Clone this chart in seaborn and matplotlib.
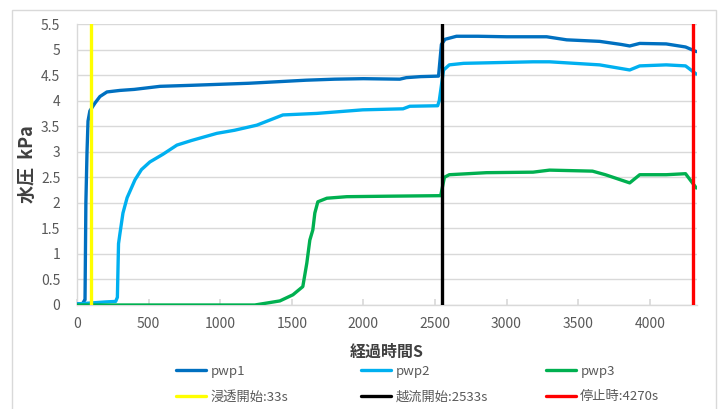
import pandas as pd
import seaborn as sns
import matplotlib.pyplot as plt
from matplotlib.lines import Line2D
from matplotlib.patches import Rectangle

# 経過時間 [s] と水圧 [kPa]
pwp1_t = [0, 40, 50, 56, 62, 70, 77, 90, 125, 160, 209, 300, 400, 580, 800, 1000, 1200,
          1400, 1600, 1800, 2000, 2254, 2300, 2400, 2525, 2545, 2570, 2650, 2800, 3000,
          3280, 3420, 3650, 3800, 3860, 3930, 4115, 4250, 4325]
pwp1_v = [0.02, 0.03, 0.08, 0.1, 2.0, 3.0, 3.6, 3.8, 3.95, 4.08, 4.17, 4.2, 4.22, 4.28,
          4.3, 4.32, 4.34, 4.37, 4.4, 4.42, 4.43, 4.42, 4.45, 4.47, 4.48, 5.1, 5.2, 5.26,
          5.26, 5.25, 5.25, 5.19, 5.16, 5.1, 5.07, 5.12, 5.11, 5.05, 4.96]

pwp2_t = [0, 100, 200, 270, 282, 290, 300, 321, 350, 405, 450, 509, 600, 698, 800, 977,
          1100, 1256, 1347, 1438, 1675, 1996, 2277, 2324, 2519, 2530, 2560, 2600, 2700,
          3185, 3300, 3650, 3860, 3930, 4115, 4250, 4325]
pwp2_v = [0.02, 0.04, 0.06, 0.07, 0.15, 1.2, 1.4, 1.8, 2.1, 2.45, 2.65, 2.8, 2.95, 3.13,
          3.22, 3.36, 3.42, 3.52, 3.62, 3.72, 3.75, 3.82, 3.84, 3.89, 3.9, 4.0, 4.6, 4.7,
          4.73, 4.76, 4.76, 4.7, 4.6, 4.68, 4.7, 4.68, 4.52]

pwp3_t = [0, 1242, 1417, 1508, 1577, 1605, 1626, 1647, 1661, 1682, 1745, 1884, 2184,
          2540, 2566, 2600, 2860, 3185, 3300, 3600, 3690, 3860, 3930, 4115, 4250, 4325]
pwp3_v = [0.0, 0.0, 0.08, 0.2, 0.36, 0.82, 1.27, 1.47, 1.8, 2.02, 2.09, 2.12, 2.13,
          2.14, 2.5, 2.55, 2.59, 2.6, 2.64, 2.62, 2.55, 2.39, 2.55, 2.55, 2.57, 2.29]

# 縦線 (イベント)
event_names = ["浸透開始:33s", "越流開始:2533s", "停止時:4270s"]
event_t = [95, 2552, 4305]
event_colors = ["#FFFF00", "#000000", "#FF0000"]

series_names = ["pwp1", "pwp2", "pwp3"]
series_colors = ["#0070C0", "#00B0F0", "#00B050"]

x_ticks = [0, 500, 1000, 1500, 2000, 2500, 3000, 3500, 4000]
y_ticks = [0, 0.5, 1, 1.5, 2, 2.5, 3, 3.5, 4, 4.5, 5, 5.5]

sns.set_theme(style="white")
plt.rcParams['font.family'] = ['Noto Sans CJK JP', 'DejaVu Sans']

fig = plt.figure(figsize=(7.25, 4.09), dpi=100)
ax = fig.add_axes([77 / 725, 1 - 305 / 409, 620 / 725, 281 / 409])

for name, t, v, c in zip(series_names, [pwp1_t, pwp2_t, pwp3_t],
                         [pwp1_v, pwp2_v, pwp3_v], series_colors):
    df = pd.DataFrame({"t": t, "v": v})
    sns.lineplot(data=df, x="t", y="v", ax=ax, color=c, lw=2.4,
                 estimator=None, sort=False, zorder=3)

for t, c in zip(event_t, event_colors):
    df = pd.DataFrame({"t": [t, t], "v": [y_ticks[0], y_ticks[-1]]})
    sns.lineplot(data=df, x="t", y="v", ax=ax, color=c, lw=2.4,
                 estimator=None, sort=False, zorder=4)

ax.set_xlim(0, 4330)
ax.set_ylim(0, 5.5)
ax.set_xticks(x_ticks)
ax.set_yticks(y_ticks)
ax.set_yticklabels([f"{y:g}" for y in y_ticks])
ax.yaxis.grid(True, color="#D9D9D9", lw=1)
ax.xaxis.grid(False)
for s in ["top", "right"]:
    ax.spines[s].set_visible(False)
for s in ["left", "bottom"]:
    ax.spines[s].set_color("#D9D9D9")
    ax.spines[s].set_linewidth(1)
ax.tick_params(axis="x", direction="in", length=4, color="#D9D9D9", bottom=True,
               pad=9, labelsize=10, labelcolor="#595959")
ax.tick_params(axis="y", length=0, pad=12, labelsize=10, labelcolor="#595959")

ax.set_xlabel("経過時間S", fontsize=11.5, fontweight="bold", color="#404040", labelpad=9)
ax.set_ylabel("水圧  kPa", fontsize=13, fontweight="bold", color="#404040", labelpad=3)

# 凡例: 3列 x 2行
for i in range(3):
    handles = [Line2D([], [], color=series_colors[i], lw=2.4),
               Line2D([], [], color=event_colors[i], lw=2.4)]
    labels = [series_names[i], event_names[i]]
    fig.legend(handles, labels, loc="upper left",
               bbox_to_anchor=(172 / 725 + i * 185 / 725, 1 - 361 / 409),
               frameon=False, fontsize=9.5, labelcolor="#595959",
               handlelength=2.3, handletextpad=0.3, labelspacing=0.95,
               borderaxespad=0, borderpad=0.3)

fig.patches.append(Rectangle((12 / 725, -0.05), 704 / 725, 1.05 - 10 / 409,
                             transform=fig.transFigure, fill=False,
                             edgecolor="#D9D9D9", lw=1))

fig.savefig("out.png", dpi=100)
